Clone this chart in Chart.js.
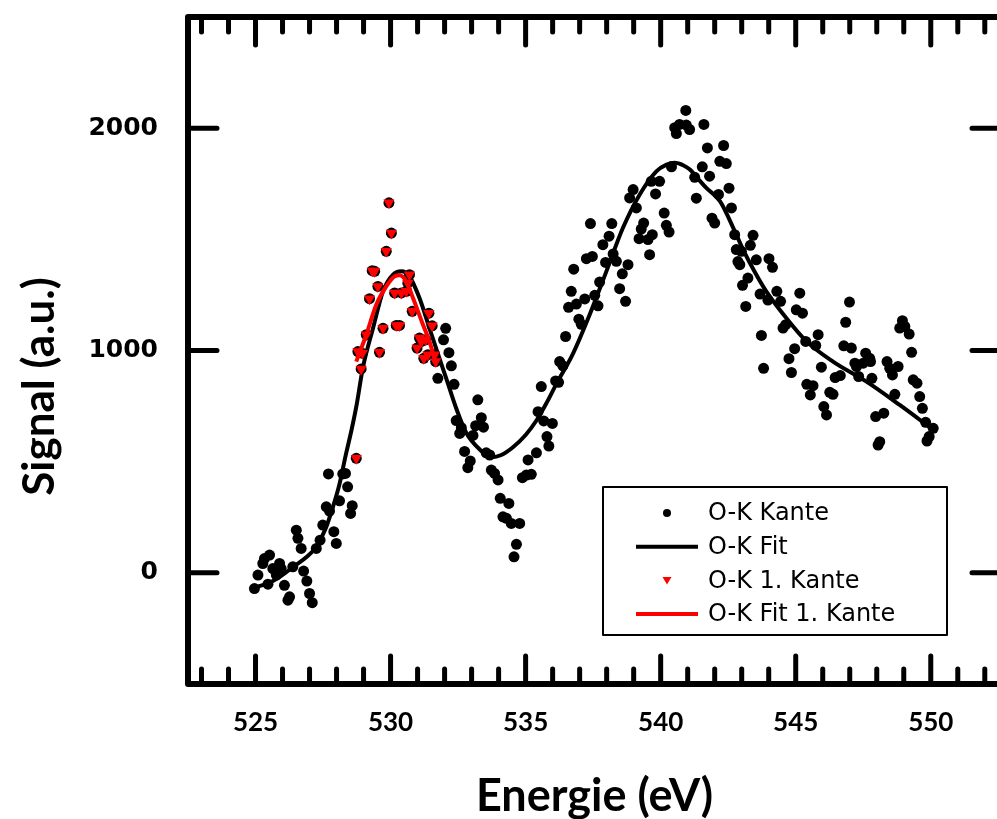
<!DOCTYPE html>
<html>
<head>
<meta charset="utf-8">
<script src="https://cdn.jsdelivr.net/npm/chart.js@4.4.0/dist/chart.umd.min.js"></script>
<style>
  html, body { margin: 0; padding: 0; background: #fff; overflow: hidden; }
  #wrap { width: 997px; height: 819px; overflow: hidden; }
</style>
</head>
<body>
<div id="wrap"><canvas id="spektrum" width="1020" height="819"></canvas></div>
<script>
// Messpunkte O-K Kante [Energie (eV), Signal]
const kantePunkte = [
  [524.96,-71],[525.09,-10],[525.27,42],[525.33,64],[525.46,-51],[525.52,80],[525.64,19],[525.77,-10],
  [525.89,42],[525.95,19],[526.07,-56],[526.2,-123],[526.26,-108],[526.38,27],[526.51,192],[526.57,155],
  [526.69,110],[526.78,8],[526.9,-37],[527.0,-93],[527.1,-134],[527.25,110],[527.39,147],[527.49,215],
  [527.62,297],[527.7,445],[527.74,278],[527.9,185],[527.99,132],[528.11,324],[528.23,445],[528.33,447],
  [528.41,387],[528.52,267],[528.58,302],
  [531.75,875],[531.96,1048],[532.04,1100],[532.16,990],[532.25,931],[532.35,848],[532.43,685],[532.56,627],
  [532.62,653],[532.74,546],[532.86,473],[532.95,503],[533.05,618],[533.15,662],[533.23,778],[533.36,698],
  [533.44,655],[533.54,540],[533.67,530],[533.73,462],[533.85,447],[533.98,418],[534.06,335],[534.16,252],
  [534.29,245],[534.38,312],[534.47,222],[534.57,72],[534.66,128],[534.78,222],[534.88,428],[535.03,440],
  [535.09,508],[535.21,443],[535.4,540],[535.46,725],[535.58,838],[535.67,683],[535.79,613],[535.86,570],
  [535.99,672],[536.11,863],[536.22,857],[536.26,950],[536.38,931],[536.48,1063],[536.59,1194],[536.69,1266],
  [536.78,1366],[536.88,1209],[536.97,1141],[537.06,1118],[537.19,1232],[537.25,1413],[537.4,1571],[537.47,1423],
  [537.56,1248],[537.68,1201],[537.74,1308],[537.86,1476],[537.96,1396],[538.09,1514],[538.19,1571],[538.24,1434],
  [538.36,1401],[538.48,1278],[538.58,1345],[538.7,1221],[538.79,1386],[538.85,1686],[538.98,1724],[539.1,1641],
  [539.2,1503],[539.28,1546],[539.37,1573],[539.53,1499],[539.59,1431],[539.65,1761],[539.69,1521],[539.81,1704],
  [539.96,1761],[540.13,1618],[540.21,1563],[540.31,1533],[540.4,1826],[540.52,2002],[540.58,1976],[540.7,2017],
  [540.93,2080],[540.95,2014],[541.07,1994],[541.26,1779],[541.32,1685],[541.54,1826],[541.6,2017],[541.73,1911],
  [541.81,1784],[541.9,1595],[542.0,1573],[542.14,1702],[542.19,1851],[542.33,1922],[542.43,1841],[542.53,1730],
  [542.62,1641],[542.74,1521],[542.8,1454],[542.86,1400],[542.93,1386],[542.99,1446],[543.03,1293],[543.15,1198],
  [543.23,1326],[543.32,1473],[543.42,1518],[543.54,1408],[543.68,1254],[543.73,1068],[543.81,920],[543.97,1227],
  [544.01,1413],[544.14,1374],[544.3,1266],[544.44,1221],[544.53,1101],[544.63,1116],[544.75,963],[544.84,901],
  [544.96,1008],[545.02,1183],[545.15,1258],[545.25,1168],[545.37,1041],[545.41,848],[545.54,800],[545.64,842],
  [545.74,1023],[545.83,1071],[545.95,925],[546.04,748],[546.14,710],[546.26,812],[546.38,803],[546.46,878],
  [546.65,887],[546.78,1021],[546.85,1127],[546.99,1218],[547.06,1011],[547.19,943],[547.25,928],[547.33,883],
  [547.5,943],[547.59,988],[547.74,965],[547.77,950],[547.82,875],[547.96,703],[548.05,575],[548.11,590],
  [548.26,718],[548.38,950],[548.48,920],[548.58,890],[548.67,803],[548.79,928],[548.85,1101],[548.95,1134],
  [549.04,1108],[549.2,1074],[549.29,992],[549.35,868],[549.49,853],[549.59,793],[549.69,740],[549.81,677],
  [549.86,593],[549.94,613],[550.09,650]
];

// Messpunkte der 1. Kante
const ersteKantePunkte = [
  [528.73,515],[528.79,995],[528.91,917],[528.95,988],[529.1,1071],[529.22,1233],[529.32,1359],[529.41,1356],
  [529.53,1288],[529.59,992],[529.72,1100],[529.84,1446],[529.94,1664],[530.03,1528],[530.15,1259],[530.21,1113],
  [530.33,1113],[530.4,1259],[530.58,1266],[530.64,1303],[530.7,1341],[530.8,1176],[530.98,1011],[531.07,1056],
  [531.14,1041],[531.23,965],[531.3,1048],[531.38,981],[531.42,1168],[531.54,1111],[531.63,981],[531.67,950]
];

// Fit-Kurven
const fitPunkte = [
  [525.0,-65],[525.5,-45],[525.9,-18],[526.4,27],[526.9,72],[527.25,117],[527.6,200],[527.85,290],
  [528.1,395],[528.35,535],[528.55,640],[528.75,760],[528.97,920],[529.35,1100],[529.72,1266],[530.09,1341],
  [530.4,1356],[530.7,1333],[531.07,1236],[531.44,1100],[531.81,965],[532.06,875],[532.43,740],[532.8,630],
  [533.3,555],[533.75,520],[534.1,530],[534.53,565],[535.0,620],[535.4,685],[535.8,770],[536.14,850],
  [536.75,985],[537.37,1161],[537.99,1356],[538.6,1551],[539.22,1701],[539.84,1806],[540.2,1835],[540.52,1844],
  [540.85,1832],[541.07,1815],[541.4,1770],[541.69,1731],[542.2,1671],[542.8,1521],[543.05,1454],[543.5,1350],
  [543.91,1266],[544.65,1146],[545.4,1041],[546.38,950],[547.62,860],[548.85,755],[550.09,643]
];

const ersteFitPunkte = [
  [528.73,950],[529.1,1071],[529.47,1206],[529.84,1288],[530.15,1333],[530.33,1338],[530.58,1311],
  [530.83,1236],[531.2,1116],[531.44,1041],[531.69,936]
];

const xTicks = [525, 530, 535, 540, 545, 550];
const yTicks = [0, 1000, 2000];

function toXY(p) {
  return { x: p[0], y: p[1] };
}

// Rahmen mit Ticks nach innen, Legende und y-Titel
const rahmenPlugin = {
  id: "rahmen",
  afterDraw: function (chart) {
    const ctx = chart.ctx;
    const a = chart.chartArea;
    const x = chart.scales.x;
    const y = chart.scales.y;

    ctx.save();
    ctx.strokeStyle = "#000";
    ctx.lineCap = "round";
    ctx.lineWidth = 5;
    ctx.beginPath();
    for (let e = Math.ceil(x.min); e <= x.max; e++) {
      const px = x.getPixelForValue(e);
      const len = e % 5 === 0 ? 28 : 15;
      ctx.moveTo(px, a.top); ctx.lineTo(px, a.top + len);
      ctx.moveTo(px, a.bottom); ctx.lineTo(px, a.bottom - len);
    }
    yTicks.forEach(function (v) {
      const py = y.getPixelForValue(v);
      ctx.moveTo(a.left, py); ctx.lineTo(a.left + 29, py);
      ctx.moveTo(a.right, py); ctx.lineTo(a.right - 29, py);
    });
    ctx.stroke();

    ctx.lineWidth = 6;
    ctx.lineJoin = "round";
    ctx.strokeRect(a.left, a.top, a.right - a.left, a.bottom - a.top);

    // y-Achsentitel
    ctx.save();
    ctx.translate(40, (a.top + a.bottom) / 2 + 36);
    ctx.rotate(-Math.PI / 2);
    ctx.fillStyle = "#000";
    ctx.font = "bold 44px Lato";
    ctx.textAlign = "center";
    ctx.textBaseline = "middle";
    ctx.fillText("Signal (a.u.)", 0, 0);
    ctx.restore();

    // Legende
    const lx = a.left + 415, ly = a.top + 470, lw = 344, lh = 148;
    ctx.lineWidth = 2;
    ctx.lineCap = "butt";
    ctx.strokeRect(lx, ly, lw, lh);
    ctx.font = "24px 'DejaVu Sans'";
    ctx.textAlign = "left";
    ctx.textBaseline = "middle";
    chart.data.datasets.forEach(function (ds, i) {
      const ry = ly + 26 + i * 33.7;
      const sx = lx + 64;
      if (ds.showLine) {
        ctx.strokeStyle = ds.borderColor;
        ctx.lineWidth = 4;
        ctx.beginPath();
        ctx.moveTo(sx - 31, ry); ctx.lineTo(sx + 31, ry);
        ctx.stroke();
      } else if (ds.pointStyle === "triangle") {
        ctx.fillStyle = ds.backgroundColor;
        ctx.beginPath();
        ctx.moveTo(sx - 4.5, ry - 3.5); ctx.lineTo(sx + 4.5, ry - 3.5); ctx.lineTo(sx, ry + 4);
        ctx.closePath();
        ctx.fill();
      } else {
        ctx.fillStyle = ds.backgroundColor;
        ctx.beginPath();
        ctx.arc(sx, ry, 4, 0, Math.PI * 2);
        ctx.fill();
      }
      ctx.fillStyle = "#000";
      ctx.fillText(ds.label, lx + 105, ry + 1);
    });
    ctx.restore();
  },
};

const ctx = document.getElementById("spektrum").getContext("2d");
new Chart(ctx, {
  type: "scatter",
  data: {
    datasets: [
      {
        label: "O-K Kante",
        data: kantePunkte.concat(ersteKantePunkte).map(toXY),
        pointStyle: "circle",
        pointRadius: 5.5,
        backgroundColor: "#000000",
        pointBorderWidth: 0,
        order: 3,
      },
      {
        label: "O-K Fit",
        data: fitPunkte.map(toXY),
        showLine: true,
        borderColor: "#000000",
        borderWidth: 4,
        pointRadius: 0,
        cubicInterpolationMode: "monotone",
        fill: false,
        order: 2,
      },
      {
        label: "O-K 1. Kante",
        data: ersteKantePunkte.map(toXY),
        pointStyle: "triangle",
        pointRotation: 180,
        pointRadius: 6.5,
        backgroundColor: "#ff0000",
        pointBorderWidth: 0,
        order: 1,
      },
      {
        label: "O-K Fit 1. Kante",
        data: ersteFitPunkte.map(toXY),
        showLine: true,
        borderColor: "#ff0000",
        borderWidth: 4,
        pointRadius: 0,
        cubicInterpolationMode: "monotone",
        fill: false,
        order: 0,
      },
    ],
  },
  options: {
    responsive: false,
    animation: false,
    events: [],
    layout: { padding: { top: 17, right: 19, left: 0, bottom: 0 } },
    plugins: {
      legend: { display: false },
      tooltip: { enabled: false },
    },
    scales: {
      x: {
        type: "linear",
        min: 522.5,
        max: 552.6,
        grid: { display: false },
        border: { display: false },
        afterBuildTicks: function (scale) {
          scale.ticks = xTicks.map(function (v) { return { value: v }; });
        },
        afterFit: function (scale) {
          scale.height = 135;
          scale.paddingLeft = 0;
          scale.paddingRight = 0;
        },
        ticks: {
          color: "#000",
          padding: 15,
          callback: function (v) { return String(v); },
          font: { family: "Lato", size: 26, weight: "bold" },
        },
        title: {
          display: true,
          text: "Energie (eV)",
          color: "#000",
          padding: 0,
          font: { family: "Lato", size: 45, weight: "bold", lineHeight: 1.0 },
        },
      },
      y: {
        type: "linear",
        min: -500,
        max: 2500,
        grid: { display: false },
        border: { display: false },
        afterBuildTicks: function (scale) {
          scale.ticks = yTicks.map(function (v) { return { value: v }; });
        },
        afterFit: function (scale) {
          scale.width = 188;
          scale.paddingTop = 0;
          scale.paddingBottom = 0;
        },
        ticks: {
          color: "#000",
          padding: 22,
          callback: function (v) { return String(v); },
          font: { family: "DejaVu Sans", size: 25, weight: "bold" },
        },
      },
    },
  },
  plugins: [rahmenPlugin],
});
</script>
</body>
</html>
